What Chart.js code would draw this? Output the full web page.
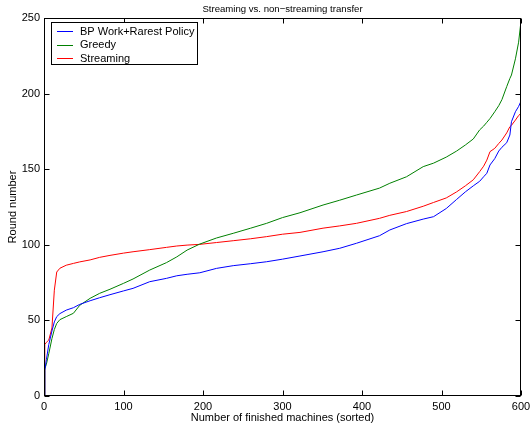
<!DOCTYPE html>
<html>
<head>
<meta charset="utf-8">
<script src="https://cdn.jsdelivr.net/npm/chart.js@4/dist/chart.umd.min.js"></script>
<style>
  html, body { margin: 0; padding: 0; background: #fff; }
  #wrap { width: 530px; height: 431px; }
</style>
</head>
<body>
<div id="wrap"><canvas id="transferChart" width="530" height="431"></canvas></div>
<script>
// finished machines (sorted) and the round each one finished in
var machines = [0, 1, 3, 6, 10, 13, 16, 20, 28, 37, 45, 58, 70, 83, 100, 112, 133, 154, 167, 180,
	196, 217, 238, 260, 280, 300, 322, 351, 372, 393, 422, 435, 456, 477, 490, 506, 519, 530,
	540, 548, 553, 557, 561, 567, 572, 576, 582, 586, 588, 593, 597, 600];
var bpWork = [0, 17, 24, 34, 43, 49, 52.5, 54.5, 56.8, 58.4, 60.6, 63, 65, 67, 69.5, 71.2, 75.6, 77.8, 79.5, 80.5,
	81.5, 84.4, 86.2, 87.5, 88.8, 90.5, 92.6, 95.4, 97.7, 101, 106, 109.8, 114, 117, 118.6, 124, 130, 135,
	139, 142, 145, 147.3, 152.8, 157, 162, 164.5, 167.5, 172.6, 181.4, 188, 191.5, 195];
var greedy = [0, 18, 21, 28, 38, 44, 48, 50.5, 52.5, 54.7, 60, 64.6, 67.9, 70.6, 74.5, 77.4, 83.3, 88.2, 92, 96.5,
	100.5, 104.5, 107.6, 111, 114.2, 118, 121.2, 126.3, 129.5, 132.9, 137.5, 140.7, 145, 151.7, 154, 158, 162, 166,
	170, 176, 178.5, 181, 183.5, 188, 192, 196, 204.6, 210, 212.3, 223, 234, 248];
var streaming = [0, 34, 35.5, 37, 45, 70, 82, 84.5, 86.5, 87.7, 88.7, 90, 91.7, 93, 94.5, 95.4, 96.8, 98.3, 99.2, 99.8,
	100.3, 101.5, 102.7, 104, 105.4, 107, 108.2, 111, 112.5, 114.2, 117.5, 119.5, 122, 125.5, 128, 131, 135, 139,
	143, 148.4, 152, 156, 161.6, 163.8, 167, 169.3, 174, 178.1, 179, 182.5, 185.5, 187];

var seriesNames = ['BP Work+Rarest Policy', 'Greedy', 'Streaming'];
var seriesColors = ['#0000ff', '#008000', '#ff0000'];
var xTicks = [0, 100, 200, 300, 400, 500, 600];
var yTicks = [0, 50, 100, 150, 200, 250];

var FAMILY = '"Liberation Sans", Arial, sans-serif';
var FONT = '11px ' + FAMILY;

function toPoints(values) {
	return values.map(function (v, i) { return { x: machines[i], y: v }; });
}

// box, inward ticks, titles and the boxed legend, drawn the matlab way
var framePlugin = {
	id: 'frame',
	afterDraw: function (chart) {
		var ctx = chart.ctx;
		var a = chart.chartArea;
		var xs = chart.scales.x, ys = chart.scales.y;
		var L = Math.round(a.left) + 0.5, R = Math.round(a.right) - 0.5;
		var T = Math.round(a.top) + 0.5, B = Math.round(a.bottom) - 0.5;
		ctx.save();
		ctx.strokeStyle = '#000';
		ctx.lineWidth = 1;
		ctx.strokeRect(L, T, R - L, B - T);
		ctx.beginPath();
		xTicks.forEach(function (t) {
			var px = Math.round(xs.getPixelForValue(t)) + 0.5;
			ctx.moveTo(px, B); ctx.lineTo(px, B - 5);
			ctx.moveTo(px, T); ctx.lineTo(px, T + 5);
		});
		yTicks.forEach(function (t) {
			var py = Math.round(ys.getPixelForValue(t)) + 0.5;
			ctx.moveTo(L, py); ctx.lineTo(L + 5, py);
			ctx.moveTo(R, py); ctx.lineTo(R - 5, py);
		});
		ctx.stroke();

		ctx.fillStyle = '#000';
		ctx.textAlign = 'center';
		ctx.textBaseline = 'middle';
		var cx = (a.left + a.right) / 2;
		ctx.font = '9.6px ' + FAMILY;
		ctx.fillText('Streaming vs. non\u2212streaming transfer', cx, 9);
		ctx.font = FONT;
		ctx.fillText('Number of finished machines (sorted)', cx, 418);
		ctx.save();
		ctx.translate(13, (a.top + a.bottom) / 2);
		ctx.rotate(-Math.PI / 2);
		ctx.fillText('Round number', 0, 0);
		ctx.restore();

		// legend
		var lx = 51.5, ly = 22.5, lw = 146, lh = 42;
		ctx.fillStyle = '#fff';
		ctx.fillRect(lx, ly, lw, lh);
		ctx.strokeRect(lx, ly, lw, lh);
		ctx.textAlign = 'left';
		chart.data.datasets.forEach(function (ds, i) {
			var y = 31 + i * 13.5;
			ctx.strokeStyle = ds.borderColor;
			ctx.beginPath();
			ctx.moveTo(57, Math.round(y) + 0.5);
			ctx.lineTo(73, Math.round(y) + 0.5);
			ctx.stroke();
			ctx.fillStyle = '#000';
			ctx.fillText(ds.label, 80, y + 0.5);
		});
		ctx.restore();
	}
};

new Chart(document.getElementById('transferChart'), {
	type: 'line',
	data: {
		datasets: [bpWork, greedy, streaming].map(function (vals, i) {
			return {
				label: seriesNames[i],
				data: toPoints(vals),
				borderColor: seriesColors[i],
				borderWidth: 1,
				pointRadius: 0,
				tension: 0,
				fill: false,
			};
		}),
	},
	options: {
		responsive: false,
		animation: false,
		events: [],
		layout: { padding: { top: 18, right: 0, left: 0, bottom: 0 } },
		plugins: { legend: { display: false }, title: { display: false }, tooltip: { enabled: false } },
		scales: {
			x: {
				type: 'linear',
				min: 0,
				max: 600,
				border: { display: false },
				grid: { display: false, drawTicks: false },
				afterBuildTicks: function (s) { s.ticks = xTicks.map(function (v) { return { value: v }; }); },
				afterFit: function (s) { s.height = 35; s.paddingRight = 9; s.paddingLeft = 0; },
				ticks: { color: '#000', font: { family: FAMILY, size: 11 }, padding: 4, maxRotation: 0 },
			},
			y: {
				min: 0,
				max: 250,
				border: { display: false },
				grid: { display: false, drawTicks: false },
				afterBuildTicks: function (s) { s.ticks = yTicks.map(function (v) { return { value: v }; }); },
				afterFit: function (s) { s.width = 44; s.paddingTop = 0; s.paddingBottom = 0; },
				ticks: { color: '#000', font: { family: FAMILY, size: 11 }, padding: 4 },
			},
		},
	},
	plugins: [framePlugin],
});
</script>
</body>
</html>
